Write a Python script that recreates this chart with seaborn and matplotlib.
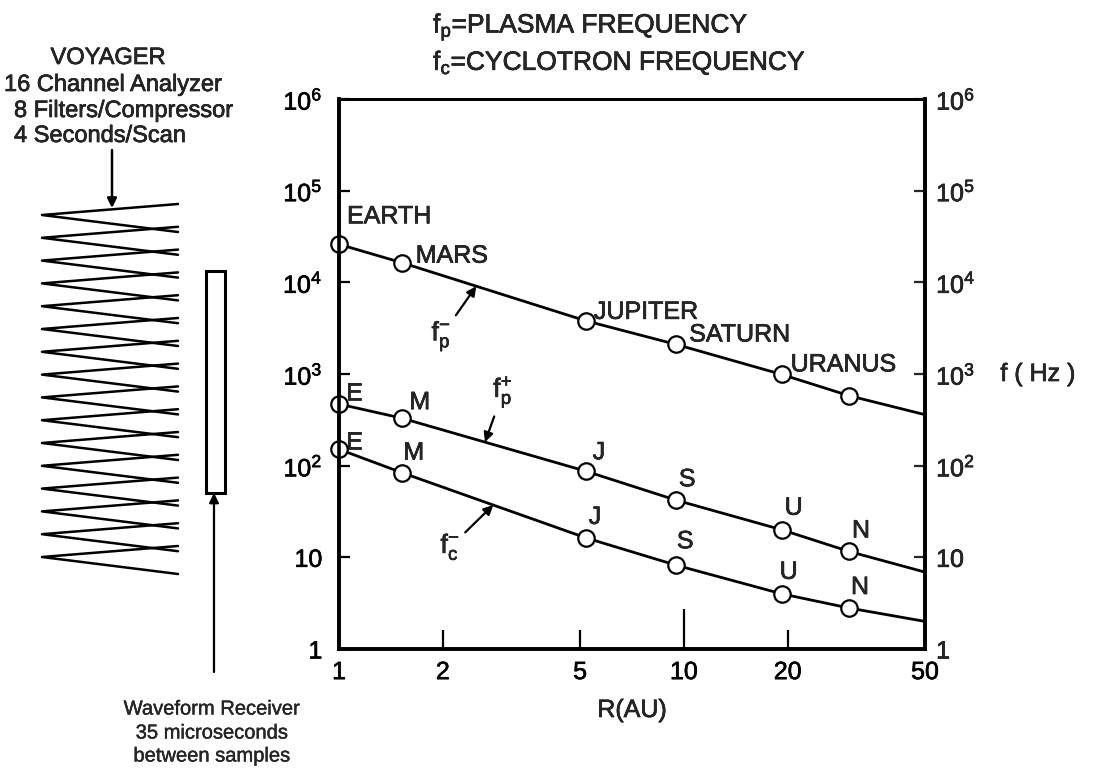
import numpy as np
import pandas as pd
import matplotlib
matplotlib.use("Agg")
import matplotlib.pyplot as plt
import matplotlib.patheffects as pe
import matplotlib.text as mtext
import seaborn as sns
from matplotlib.ticker import NullLocator
from matplotlib.transforms import blended_transform_factory

# ---------------- data ----------------
planet_names = ["EARTH", "MARS", "JUPITER", "SATURN", "URANUS", "NEPTUNE"]
planet_R = [1.0, 1.52, 5.2, 9.5, 19.2, 30.1]

fp_minus = [2.6e4, 1.64e4, 3.8e3, 2.1e3, 990, 580]
fp_plus = [470, 330, 87, 42, 20, 11.6]
fc_minus = [151, 84, 16.3, 8.2, 4.0, 2.8]

R_end = 50
fp_minus_end = 360
fp_plus_end = 6.9
fc_minus_end = 2.0

fp_minus_labels = ["EARTH", "MARS", "JUPITER", "SATURN", "URANUS", ""]
short_labels = ["E", "M", "J", "S", "U", "N"]

x_ticks = [1, 2, 5, 10, 20, 50]
x_tick_labels = ["1", "2", "5", "10", "20", "50"]
y_ticks = [1, 10, 1e2, 1e3, 1e4, 1e5, 1e6]
y_tick_labels = ["1", "10", "10$^{2}$", "10$^{3}$", "10$^{4}$", "10$^{5}$", "10$^{6}$"]

n_channels = 16

# ---------------- style ----------------
sns.set_style("ticks")
plt.rcParams["font.family"] = ["Liberation Sans", "DejaVu Sans"]
plt.rcParams["mathtext.fontset"] = "custom"
plt.rcParams["mathtext.rm"] = "Liberation Sans"
plt.rcParams["mathtext.it"] = "Liberation Sans"
plt.rcParams["mathtext.default"] = "regular"

W, H = 1100, 768
fig = plt.figure(figsize=(W / 100, H / 100), dpi=100)

# overlay axes in pixel coordinates for the instrument diagram
ov = fig.add_axes([0, 0, 1, 1])
ov.set_xlim(0, W)
ov.set_ylim(H, 0)
ov.axis("off")

ax_l, ax_r, ax_t, ax_b = 339, 925, 99, 649
ax = fig.add_axes([ax_l / W, 1 - ax_b / H, (ax_r - ax_l) / W, (ax_b - ax_t) / H])

# ---------------- lines ----------------
rows = []
for name, vals, end in [("fp-", fp_minus, fp_minus_end),
                        ("fp+", fp_plus, fp_plus_end),
                        ("fc-", fc_minus, fc_minus_end)]:
    for r, v in zip(planet_R + [R_end], vals + [end]):
        rows.append(dict(series=name, R=r, f=v))
df = pd.DataFrame(rows)

pts = []
for name, vals in [("fp-", fp_minus), ("fp+", fp_plus), ("fc-", fc_minus)]:
    for r, v in zip(planet_R, vals):
        pts.append(dict(series=name, R=r, f=v))
dfp = pd.DataFrame(pts)

sns.lineplot(data=df, x="R", y="f", hue="series", palette=["black"] * 3,
             legend=False, lw=2, estimator=None, sort=True, ax=ax, zorder=3)
sns.scatterplot(data=dfp, x="R", y="f", marker="o", s=140, color="white",
                edgecolor="black", linewidth=1.6, zorder=5, clip_on=False,
                legend=False, ax=ax)

ax.set_xscale("log")
ax.set_yscale("log")
ax.set_xlim(1, 50)
ax.set_ylim(1, 1e6)

ax.set_xticks(x_ticks)
ax.set_xticklabels(x_tick_labels)
ax.xaxis.set_minor_locator(NullLocator())
ax.set_yticks(y_ticks)
ax.set_yticklabels(y_tick_labels)
ax.yaxis.set_minor_locator(NullLocator())
ax.tick_params(axis="both", direction="in", labelsize=18, width=1.6, colors="black")
ax.tick_params(axis="y", length=8, pad=12)
ax.tick_params(axis="x", length=14, pad=8)
ax.xaxis.get_major_ticks()[3].tick1line.set_markersize(29)
ax.set_xlabel("R(AU)", fontsize=18, labelpad=10)
ax.set_ylabel("")

ax2 = ax.twinx()
ax2.set_yscale("log")
ax2.set_ylim(1, 1e6)
ax2.set_yticks(y_ticks)
ax2.set_yticklabels(y_tick_labels)
ax2.yaxis.set_minor_locator(NullLocator())
ax2.tick_params(axis="y", direction="in", length=8, width=1.6, labelsize=18, pad=8)

for a in (ax, ax2):
    for side, sp in a.spines.items():
        sp.set_visible(True)
        sp.set_color("black")
        sp.set_linewidth(2.0 if side == "top" else 2.6)

trans = blended_transform_factory(ax.transAxes, ax.transData)
ax.text((1038 - ax_l) / (ax_r - ax_l), 1e3, "f ( Hz )", transform=trans,
        ha="center", va="center", fontsize=18)

# ---------------- planet labels ----------------
fp_minus_off = [(8, 28), (14, 7), (8, 9), (13, 10), (9, 10), (0, 0)]
for r, v, lab, off in zip(planet_R, fp_minus, fp_minus_labels, fp_minus_off):
    if lab:
        ax.annotate(lab, xy=(r, v), xytext=off, textcoords="offset pixels",
                    ha="left", va="center", fontsize=18)

fp_plus_off = [(15, 11), (18, 16), (13, 19), (11, 21), (12, 22), (12, 21)]
for r, v, lab, off in zip(planet_R, fp_plus, short_labels, fp_plus_off):
    ax.annotate(lab, xy=(r, v), xytext=off, textcoords="offset pixels",
                ha="center", va="center", fontsize=18)

fc_off = [(15, 7), (12, 20), (9, 21), (9, 24), (7, 22), (11, 21)]
for r, v, lab, off in zip(planet_R, fc_minus, short_labels, fc_off):
    ax.annotate(lab, xy=(r, v), xytext=off, textcoords="offset pixels",
                ha="center", va="center", fontsize=18)


def on_line(R, vals, end, r):
    xs = np.log10(planet_R + [R_end])
    ys = np.log10(vals + [end])
    return 10 ** np.interp(np.log10(r), xs, ys)


arrow = dict(arrowstyle="-|>", color="black", lw=1.6, mutation_scale=14,
             shrinkA=2, shrinkB=0)
r_tip = 2.5
ax.annotate("f$_p^{-}$", xy=(r_tip, on_line(planet_R, fp_minus, fp_minus_end, r_tip)),
            xytext=(-35, -50), textcoords="offset pixels", ha="center", va="center",
            fontsize=19, arrowprops=arrow)
r_tip = 2.65
ax.annotate("f$_p^{+}$", xy=(r_tip, on_line(planet_R, fp_plus, fp_plus_end, r_tip)),
            xytext=(18, 50), textcoords="offset pixels", ha="center", va="center",
            fontsize=19, arrowprops=arrow)
r_tip = 2.8
ax.annotate("f$_c^{-}$", xy=(r_tip, on_line(planet_R, fc_minus, fc_minus_end, r_tip)),
            xytext=(-43, -42), textcoords="offset pixels", ha="center", va="center",
            fontsize=19, arrowprops=arrow)

# ---------------- header text ----------------
ov.text(433, 27, "f$_p$=PLASMA FREQUENCY", ha="left", va="center", fontsize=19)
ov.text(433, 63, "f$_c$=CYCLOTRON FREQUENCY", ha="left", va="center", fontsize=19)

# ---------------- instrument diagram ----------------
ov.text(108, 58, "VOYAGER", ha="center", va="center", fontsize=17)
ov.text(4, 85, "16 Channel Analyzer", ha="left", va="center", fontsize=17)
ov.text(14, 111, "8 Filters/Compressor", ha="left", va="center", fontsize=17)
ov.text(14, 136, "4 Seconds/Scan", ha="left", va="center", fontsize=17)
ov.annotate("", xy=(112, 208), xytext=(112, 150),
            arrowprops=dict(arrowstyle="-|>", color="black", lw=1.8, mutation_scale=14,
                            shrinkA=0, shrinkB=0))

zig_left, zig_right = 42, 178
v0, dv = 215, 22.8
up_off, low_off = 11, 17
for k in range(n_channels):
    vy = v0 + k * dv
    ov.plot([zig_right, zig_left, zig_right], [vy - up_off, vy, vy + low_off],
            color="black", lw=1.8, solid_joinstyle="round")

ov.add_patch(plt.Rectangle((206, 271), 19, 222, fill=False, edgecolor="black", lw=2.2))
ov.annotate("", xy=(214, 493), xytext=(214, 672),
            arrowprops=dict(arrowstyle="-|>", color="black", lw=1.6, mutation_scale=14,
                            shrinkA=0, shrinkB=0))
wf_texts = [
    ov.text(212, 709, "Waveform Receiver", ha="center", va="center", fontsize=14.5),
    ov.text(212, 733, "35 microseconds", ha="center", va="center", fontsize=14.5),
    ov.text(212, 756, "between samples", ha="center", va="center", fontsize=14.5),
]

# slightly heavier text strokes, like the printed original
for t in fig.findobj(mtext.Text):
    t.set_path_effects([pe.withStroke(linewidth=0.45, foreground="black")])
for t in wf_texts:
    t.set_path_effects([pe.withStroke(linewidth=0.25, foreground="black")])

fig.savefig("out.png", dpi=100)
